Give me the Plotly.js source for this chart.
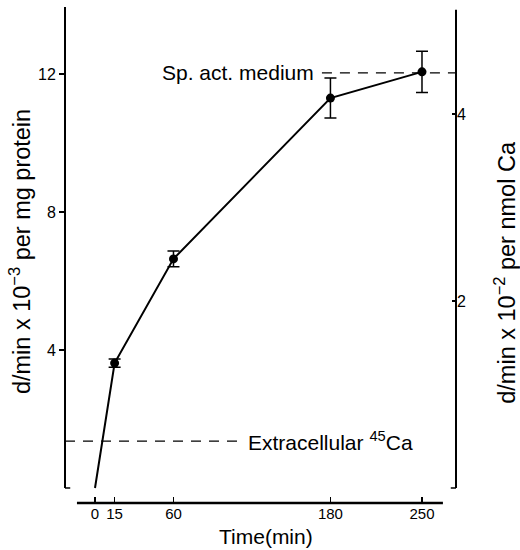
<!DOCTYPE html>
<html>
<head>
<meta charset="utf-8">
<script src="https://cdn.plot.ly/plotly-3.0.1.min.js"></script>
<style>html,body{margin:0;padding:0;background:#fff;}#chart{width:520px;height:550px;}</style>
</head>
<body>
<div id="chart"></div>
<script>
// Data
const timeMin = [0, 15, 60, 180, 250];
const activity = [0, 3.62, 6.64, 11.30, 12.06];      // d/min x 10^-3 per mg protein
const activityErr = [0, 0.12, 0.23, 0.58, 0.60];
const spActMedium = 12.03;      // level of "Sp. act. medium"
const extracellular = 1.36;     // level of "Extracellular 45Ca"
const xTickVals = [0, 15, 60, 180, 250];
const xTickText = ["0", "15", "60", "180", "250"];
const leftTickVals = [4, 8, 12];
const rightTickVals = [2, 4];
const rightTickText = ["2", "4"];

const FONT = "Liberation Sans, Arial, sans-serif";
const xRange = [-22.94, 276.0];
const yRange = [-0.435, 13.94];
const rightScale = 34.5 / 93.5;   // right-axis units per left-axis unit
const y2Range = [yRange[0] * rightScale, yRange[1] * rightScale];

const traces = [
  {
    x: timeMin, y: activity, mode: 'lines', type: 'scatter',
    line: {color: '#000', width: 2}, hoverinfo: 'skip', showlegend: false
  },
  {
    x: timeMin.slice(1), y: activity.slice(1), mode: 'markers', type: 'scatter',
    marker: {color: '#000', size: 9},
    error_y: {type: 'data', array: activityErr.slice(1), visible: true, color: '#000', thickness: 1.5, width: 6},
    showlegend: false
  },
  {
    x: [timeMin[0]], y: [0], yaxis: 'y2', mode: 'markers', marker: {opacity: 0},
    showlegend: false, hoverinfo: 'skip'
  }
];

const layout = {
  width: 520, height: 550,
  margin: {l: 65, r: 64, t: 7, b: 47},
  paper_bgcolor: '#fff', plot_bgcolor: '#fff',
  font: {family: FONT, color: '#000', size: 15},
  showlegend: false,
  xaxis: {
    range: xRange, showgrid: false, zeroline: false, showline: false,
    tickmode: 'array', tickvals: xTickVals, ticktext: xTickText,
    ticks: 'inside', ticklen: 6, tickwidth: 1.5, tickcolor: '#000',
    tickfont: {size: 15, family: FONT, color: '#000'}
  },
  yaxis: {
    range: yRange, showgrid: false, zeroline: false, showline: false,
    tickmode: 'array', tickvals: leftTickVals,
    ticks: 'outside', ticklen: 5, tickwidth: 1.5, tickcolor: '#000',
    tickfont: {size: 16, family: FONT, color: '#000'}
  },
  yaxis2: {
    range: y2Range, overlaying: 'y', side: 'right', anchor: 'x', showgrid: false, zeroline: false, showline: false,
    tickmode: 'array', tickvals: rightTickVals, ticktext: rightTickText,
    ticks: 'inside', ticklen: 4, tickwidth: 1.5, tickcolor: '#000',
    tickfont: {size: 16, family: FONT, color: '#000'}
  },
  shapes: [
    // x axis line (shorter than plot width)
    {type: 'line', xref: 'x', yref: 'paper', x0: -13.8, x1: 266, y0: 0, y1: 0, line: {color: '#000', width: 2.5}},
    // left y axis with foot
    {type: 'line', xref: 'paper', yref: 'y', x0: 0, x1: 0, y0: 0, y1: 13.94, line: {color: '#000', width: 2}},
    {type: 'line', xref: 'x', yref: 'y', x0: xRange[0], x1: xRange[0] + 4, y0: 0, y1: 0, line: {color: '#000', width: 1.5}},
    // right y axis with foot
    {type: 'line', xref: 'paper', yref: 'y', x0: 1, x1: 1, y0: 0, y1: 13.86, line: {color: '#000', width: 2}},
    {type: 'line', xref: 'x', yref: 'y', x0: xRange[1] - 4, x1: xRange[1], y0: 0, y1: 0, line: {color: '#000', width: 1.5}},
    // dashed reference levels
    {type: 'line', xref: 'x', yref: 'y', x0: 173.5, x1: xRange[1], y0: spActMedium, y1: spActMedium, line: {color: '#000', width: 1.3, dash: '10px,8px'}},
    {type: 'line', xref: 'x', yref: 'y', x0: xRange[0], x1: 110.9, y0: extracellular, y1: extracellular, line: {color: '#000', width: 1.3, dash: '10px,8px'}}
  ],
  annotations: [
    {text: 'Sp. act. medium', xref: 'x', yref: 'y', x: 169, y: spActMedium, xanchor: 'right', yanchor: 'middle', showarrow: false, font: {size: 21, family: FONT}},
    {text: 'Extracellular <sup>45</sup>Ca', xref: 'x', yref: 'y', x: 115.4, y: extracellular, xanchor: 'left', yanchor: 'middle', showarrow: false, font: {size: 21, family: FONT}},
    {text: 'Time(min)', xref: 'paper', yref: 'paper', x: 0.514, y: -0.0685, xanchor: 'center', yanchor: 'middle', showarrow: false, font: {size: 21, family: FONT}},
    {text: 'd/min x 10<sup>\u22123</sup> per mg protein', xref: 'paper', yref: 'paper', x: -0.115, y: 0.506, xanchor: 'center', yanchor: 'middle', textangle: -90, showarrow: false, font: {size: 23.5, family: FONT}},
    {text: 'd/min x 10<sup>\u22122</sup> per nmol Ca', xref: 'paper', yref: 'paper', x: 1.125, y: 0.466, xanchor: 'center', yanchor: 'middle', textangle: -90, showarrow: false, font: {size: 23.5, family: FONT}}
  ]
};

Plotly.newPlot('chart', traces, layout, {displayModeBar: false, staticPlot: true});
</script>
</body>
</html>
